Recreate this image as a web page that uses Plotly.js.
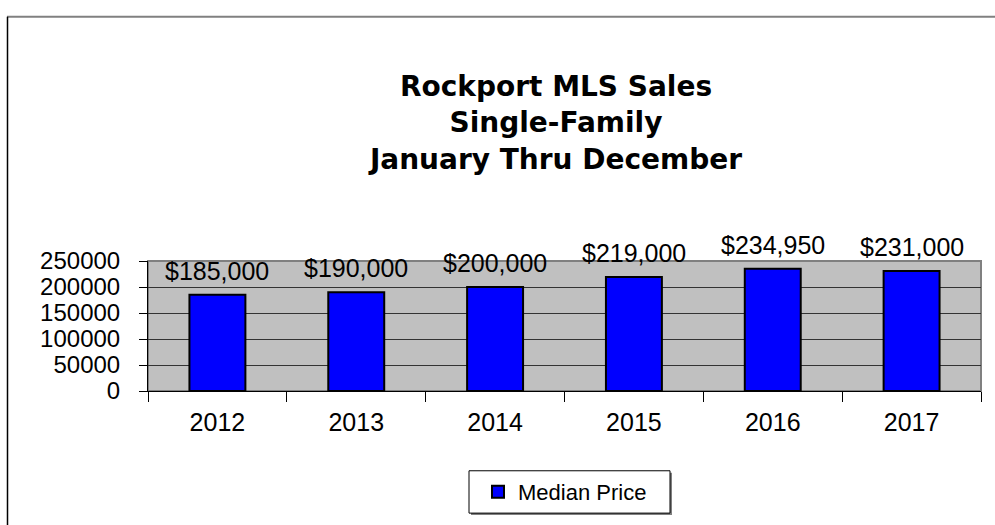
<!DOCTYPE html>
<html>
<head>
<meta charset="utf-8">
<script src="https://cdn.plot.ly/plotly-3.0.1.min.js"></script>
<style>
  html, body { margin: 0; padding: 0; background: #ffffff; }
  #chart { width: 995px; height: 525px; }
</style>
</head>
<body>
<div id="chart"></div>
<script>
// ---- Data ----
const years = ["2012", "2013", "2014", "2015", "2016", "2017"];
const medianPrice = [185000, 190000, 200000, 219000, 234950, 231000];
const seriesName = "Median Price";
const titleLines = ["Rockport MLS Sales", "Single-Family", "January Thru December"];
const yTicks = [0, 50000, 100000, 150000, 200000, 250000];

const FONT = "Liberation Sans, Arial, sans-serif";

function fmtDollar(v) {
  return "$" + v.toLocaleString("en-US");
}

const trace = {
  type: "bar",
  name: seriesName,
  x: years,
  y: medianPrice,
  marker: { color: "#0000FF", line: { color: "#000000", width: 2 } },
  showlegend: true,
  hoverinfo: "x+y"
};

// data labels: positioned by category index on the category axis
const annotations = years.map((yr, i) => ({
  x: i,
  y: medianPrice[i],
  xref: "x",
  yref: "y",
  text: fmtDollar(medianPrice[i]),
  showarrow: false,
  yanchor: "bottom",
  yshift: 8,
  font: { family: FONT, size: 25, color: "#000000" }
}));

// plot area: x 148..981 px, y 261..393 px
const L = 148, R = 981, T = 261, B = 393;
const px = v => (v - L) / (R - L);
const py = v => (B - v) / (B - T);

const shapes = [
  { type: "rect", xref: "paper", yref: "paper", x0: 0, x1: 1, y0: 0, y1: 1,
    line: { color: "#808080", width: 2 }, fillcolor: "rgba(0,0,0,0)", layer: "below" },
  { type: "line", xref: "paper", yref: "paper", x0: px(7), x1: px(1000), y0: py(13), y1: py(13),
    line: { color: "#808080", width: 2 } },
  { type: "line", xref: "paper", yref: "paper", x0: px(7.5), x1: px(7.5), y0: py(13), y1: py(530),
    line: { color: "#000000", width: 1.5 } },
  { type: "rect", xref: "paper", yref: "paper", x0: px(471), x1: px(672), y0: py(519), y1: py(476),
    line: { width: 0 }, fillcolor: "#808080" },
  { type: "rect", xref: "paper", yref: "paper", x0: px(469), x1: px(670), y0: py(517), y1: py(474),
    line: { color: "#000000", width: 1 }, fillcolor: "#ffffff" }
];

const layout = {
  width: 995,
  height: 525,
  margin: { l: L, r: 995 - R, t: T, b: 525 - B, pad: 0 },
  paper_bgcolor: "#ffffff",
  plot_bgcolor: "#C0C0C0",
  font: { family: FONT, color: "#000000" },
  title: {
    text: titleLines.join("<br>"),
    font: { family: "DejaVu Sans, sans-serif", size: 28, color: "#000000", weight: "bold" },
    x: 556 / 995,
    xref: "container",
    xanchor: "center",
    y: 1 - 96 / 525,
    yref: "container",
    yanchor: "top"
  },
  bargap: 0.597,
  xaxis: {
    type: "category",
    categoryorder: "array",
    categoryarray: years,
    range: [-0.5, years.length - 0.5],
    autorange: false,
    tickangle: 0,
    showline: true,
    linecolor: "#000000",
    linewidth: 1,
    ticks: "outside",
    tickson: "boundaries",
    ticklen: 10,
    tickcolor: "#000000",
    tickwidth: 1,
    showgrid: false,
    tickfont: { family: FONT, size: 25, color: "#000000" },
    ticklabelstandoff: 9,
    fixedrange: true
  },
  yaxis: {
    range: [0, 250000],
    autorange: false,
    tickvals: yTicks,
    ticktext: yTicks.map(String),
    showline: true,
    linecolor: "#000000",
    linewidth: 1,
    ticks: "outside",
    ticklen: 8,
    tickcolor: "#000000",
    tickwidth: 1,
    showgrid: true,
    gridcolor: "#333333",
    gridwidth: 1,
    zeroline: false,
    tickfont: { family: FONT, size: 24, color: "#000000" },
    ticklabelstandoff: 14,
    fixedrange: true
  },
  showlegend: true,
  legend: {
    x: px(565),
    y: py(495.5),
    xanchor: "center",
    yanchor: "middle",
    bgcolor: "rgba(0,0,0,0)",
    borderwidth: 0,
    font: { family: FONT, size: 22, color: "#000000" }
  },
  annotations: annotations,
  shapes: shapes
};

Plotly.newPlot("chart", [trace], layout, { displayModeBar: false, staticPlot: true });
</script>
</body>
</html>
